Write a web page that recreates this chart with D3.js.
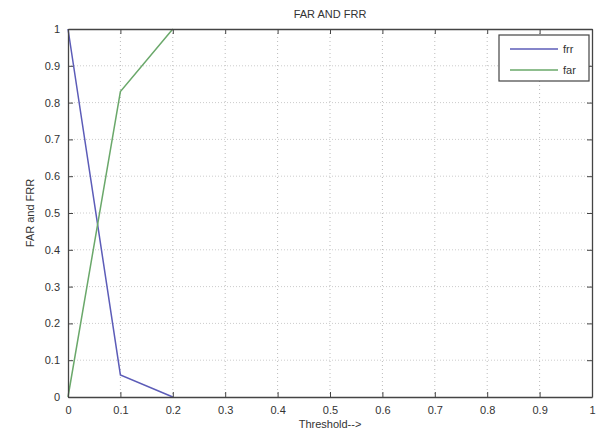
<!DOCTYPE html>
<html>
<head>
<meta charset="utf-8">
<script src="https://cdn.jsdelivr.net/npm/d3@7"></script>
<style>
  body { margin: 0; background: #fff; }
  text { font-family: "Liberation Sans", Arial, sans-serif; fill: #333; }
</style>
</head>
<body>
<script>
// threshold values and the two error rates
const thresholds = [0, 0.1, 0.2];
const frr = [1, 0.06, 0];
const far = [0, 0.83, 1];
const xTicks = [0, 0.1, 0.2, 0.3, 0.4, 0.5, 0.6, 0.7, 0.8, 0.9, 1];
const yTicks = [0, 0.1, 0.2, 0.3, 0.4, 0.5, 0.6, 0.7, 0.8, 0.9, 1];

const width = 602, height = 434;
const margin = {top: 29, right: 10, bottom: 37, left: 68};
const w = width - margin.left - margin.right;
const h = height - margin.top - margin.bottom;

const svg = d3.select('body').append('svg')
    .attr('width', width)
    .attr('height', height);

const g = svg.append('g')
    .attr('transform', `translate(${margin.left},${margin.top})`);

const x = d3.scaleLinear().domain([0, 1]).range([0, w]);
const y = d3.scaleLinear().domain([0, 1]).range([h, 0]);

// grid
g.selectAll('.vgrid').data(xTicks.slice(1, -1)).join('line')
    .attr('x1', d => x(d)).attr('x2', d => x(d))
    .attr('y1', 0).attr('y2', h)
    .attr('stroke', '#bbb').attr('stroke-dasharray', '1,3');
g.selectAll('.hgrid').data(yTicks.slice(1, -1)).join('line')
    .attr('x1', 0).attr('x2', w)
    .attr('y1', d => y(d)).attr('y2', d => y(d))
    .attr('stroke', '#ccc').attr('stroke-dasharray', '1,2');

// lines
const line = d3.line().x((d, i) => x(thresholds[i])).y(d => y(d));
g.append('path').datum(frr)
    .attr('d', line).attr('fill', 'none')
    .attr('stroke', '#5c5cb8').attr('stroke-width', 1.5);
g.append('path').datum(far)
    .attr('d', line).attr('fill', 'none')
    .attr('stroke', '#6aa86a').attr('stroke-width', 1.5);

// axes, ticks pointing inward like matlab
const fmt = d => d === 0 || d === 1 ? String(d) : d3.format('.1f')(d);
g.append('g').attr('transform', `translate(0,${h})`)
    .call(d3.axisBottom(x).tickValues(xTicks).tickFormat(fmt).tickSizeInner(-5).tickSizeOuter(0).tickPadding(9));
g.append('g')
    .call(d3.axisLeft(y).tickValues(yTicks).tickFormat(fmt).tickSizeInner(-5).tickSizeOuter(0).tickPadding(8));
g.append('g')
    .call(d3.axisTop(x).tickValues(xTicks).tickFormat('').tickSizeInner(-5).tickSizeOuter(0));
g.append('g').attr('transform', `translate(${w},0)`)
    .call(d3.axisRight(y).tickValues(yTicks).tickFormat('').tickSizeInner(-5).tickSizeOuter(0));
g.selectAll('.domain').attr('stroke', '#444').attr('stroke-width', 1.3);
g.selectAll('.tick line').attr('stroke', '#444');
g.selectAll('.tick text').style('font-size', '11px').attr('fill', '#444');

// legend
const leg = svg.append('g').attr('transform', 'translate(499,35)');
leg.append('rect').attr('width', 90).attr('height', 46)
    .attr('fill', '#fff').attr('stroke', '#444').attr('stroke-width', 1.2);
const items = [{name: 'frr', color: '#5c5cb8'}, {name: 'far', color: '#6aa86a'}];
items.forEach((d, i) => {
    const yy = 14 + i * 21;
    leg.append('line').attr('x1', 11).attr('x2', 59).attr('y1', yy).attr('y2', yy)
        .attr('stroke', d.color).attr('stroke-width', 1.5);
    leg.append('text').attr('x', 64).attr('y', yy + 4)
        .style('font-size', '11px').text(d.name);
});

// titles
svg.append('text').attr('x', margin.left + w / 2).attr('y', 18)
    .attr('text-anchor', 'middle').style('font-size', '11px').text('FAR AND FRR');
svg.append('text').attr('x', margin.left + w / 2).attr('y', 428)
    .attr('text-anchor', 'middle').style('font-size', '11px').text('Threshold-->');
svg.append('text')
    .attr('transform', `translate(34,${margin.top + h / 2}) rotate(-90)`)
    .attr('text-anchor', 'middle').style('font-size', '11px').text('FAR and FRR');
</script>
</body>
</html>
